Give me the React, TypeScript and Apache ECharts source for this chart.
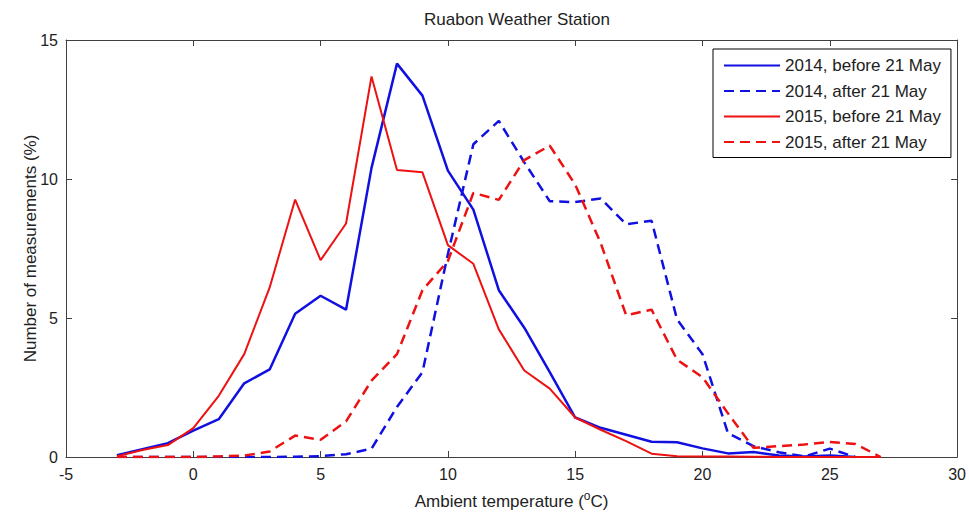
import React, { useRef, useEffect } from 'react';
import * as echarts from 'echarts';

// temperature bins (°C)
const temps = [-3, -2, -1, 0, 1, 2, 3, 4, 5, 6, 7, 8, 9, 10, 11, 12, 13, 14, 15, 16, 17, 18, 19, 20, 21, 22, 23, 24, 25, 26, 27];

// share of measurements (%) per bin
const before2014 = [0.06, 0.28, 0.5, 0.95, 1.36, 2.65, 3.15, 5.15, 5.8, 5.3, 10.4, 14.15, 13.0, 10.3, 8.9, 6.0, 4.65, 3.05, 1.42, 1.05, 0.8, 0.55, 0.53, 0.31, 0.13, 0.18, 0.05, 0.02, 0.05, 0.0, null];
const after2014 = [0, 0, 0, 0, 0, 0, 0, 0.01, 0.03, 0.1, 0.3, 1.8, 3.05, 7.3, 11.25, 12.09, 10.6, 9.2, 9.17, 9.3, 8.37, 8.5, 4.95, 3.7, 0.86, 0.39, 0.17, 0.02, 0.3, 0, null];
const before2015 = [0.03, 0.25, 0.43, 1.04, 2.2, 3.7, 6.1, 9.26, 7.08, 8.4, 13.69, 10.32, 10.24, 7.62, 6.95, 4.59, 3.11, 2.46, 1.42, 0.98, 0.57, 0.12, 0.03, 0.02, 0.02, 0.01, 0, 0, 0, 0, 0];
const after2015 = [0, 0, 0, 0, 0.02, 0.05, 0.2, 0.77, 0.62, 1.28, 2.75, 3.7, 6.0, 7.05, 9.5, 9.25, 10.68, 11.2, 9.8, 7.7, 5.1, 5.3, 3.5, 2.87, 1.57, 0.33, 0.39, 0.45, 0.54, 0.47, 0];

const seriesNames = ['2014, before 21 May', '2014, after 21 May', '2015, before 21 May', '2015, after 21 May'];

const BLUE = '#1010e0';
const RED = '#ee1111';
const AXIS = '#404040';
const TEXT = '#222';
const FONT = '"Liberation Sans", Arial, sans-serif';

const pairs = (vals: (number | null)[]) =>
  temps.map((t, i) => [t, vals[i]]).filter((p) => p[1] !== null);

const App: React.FC = () => {
  const chartRef = useRef<HTMLDivElement>(null);

  useEffect(() => {
    if (!chartRef.current) return;
    const chart = echarts.init(chartRef.current, null, { renderer: 'svg' });

    const line = (name: string, data: (number | null)[], color: string, dashed: boolean, width: number) => ({
      name,
      type: 'line',
      data: pairs(data),
      symbol: 'none',
      legendIcon: 'none',
      lineStyle: { color, width, type: dashed ? [10, 6] : 'solid' },
      itemStyle: { color },
    });

    const tick = { show: true, inside: true, length: 6, lineStyle: { color: AXIS } };
    const axisLine = { show: true, onZero: false, lineStyle: { color: AXIS } };

    chart.setOption({
      animation: false,
      backgroundColor: '#fff',
      textStyle: { fontFamily: FONT },
      title: {
        text: 'Ruabon Weather Station',
        left: 512,
        top: 6,
        textAlign: 'center',
        textStyle: { fontSize: 17, fontWeight: 'normal', color: TEXT, fontFamily: FONT },
      },
      grid: { left: 66, right: 10, top: 40, bottom: 54 },
      legend: {
        orient: 'vertical',
        left: 713,
        top: 49,
        padding: [8, 10, 7, 10],
        itemWidth: 56,
        itemHeight: 14,
        itemGap: 8.5,
        borderColor: '#000',
        borderWidth: 1,
        backgroundColor: '#fff',
        itemStyle: { opacity: 0 },
        data: seriesNames,
        textStyle: { fontSize: 17, lineHeight: 17, color: TEXT, fontFamily: FONT },
      },
      xAxis: [
        {
          type: 'value',
          min: -5,
          max: 30,
          interval: 5,
          splitLine: { show: false },
          axisLine,
          axisTick: tick,
          axisLabel: { fontSize: 16, color: TEXT, margin: 9, fontFamily: FONT },
          name: 'Ambient temperature ({sup|o}C)',
          nameLocation: 'middle',
          nameGap: 33,
          nameMoveOverlap: false,
          nameTextStyle: {
            fontSize: 17,
            lineHeight: 22,
            color: TEXT,
            fontFamily: FONT,
            rich: {
              sup: { fontSize: 12, color: TEXT, fontFamily: FONT, verticalAlign: 'top', lineHeight: 12 },
            },
          },
        },
        {
          type: 'value',
          position: 'top',
          min: -5,
          max: 30,
          interval: 5,
          splitLine: { show: false },
          axisLine,
          axisTick: tick,
          axisLabel: { show: false },
        },
      ],
      yAxis: [
        {
          type: 'value',
          min: 0,
          max: 15,
          interval: 5,
          splitLine: { show: false },
          axisLine,
          axisTick: tick,
          axisLabel: { fontSize: 16, color: TEXT, margin: 8, fontFamily: FONT },
          name: 'Number of measurements (%)',
          nameLocation: 'middle',
          nameGap: 27,
          nameMoveOverlap: false,
          nameTextStyle: { fontSize: 17, color: TEXT, fontFamily: FONT },
        },
        {
          type: 'value',
          position: 'right',
          min: 0,
          max: 15,
          interval: 5,
          splitLine: { show: false },
          axisLine,
          axisTick: tick,
          axisLabel: { show: false },
        },
      ],
      series: [
        line(seriesNames[0], before2014, BLUE, false, 2.5),
        line(seriesNames[1], after2014, BLUE, true, 2.5),
        line(seriesNames[2], before2015, RED, false, 2),
        line(seriesNames[3], after2015, RED, true, 2.5),
      ],
    });

    return () => { chart.dispose(); };
  }, []);

  return (
    <div
      ref={chartRef}
      style={{ position: 'fixed', left: 0, top: 0, width: 969, height: 517, background: '#fff' }}
    />
  );
};

export default App;
